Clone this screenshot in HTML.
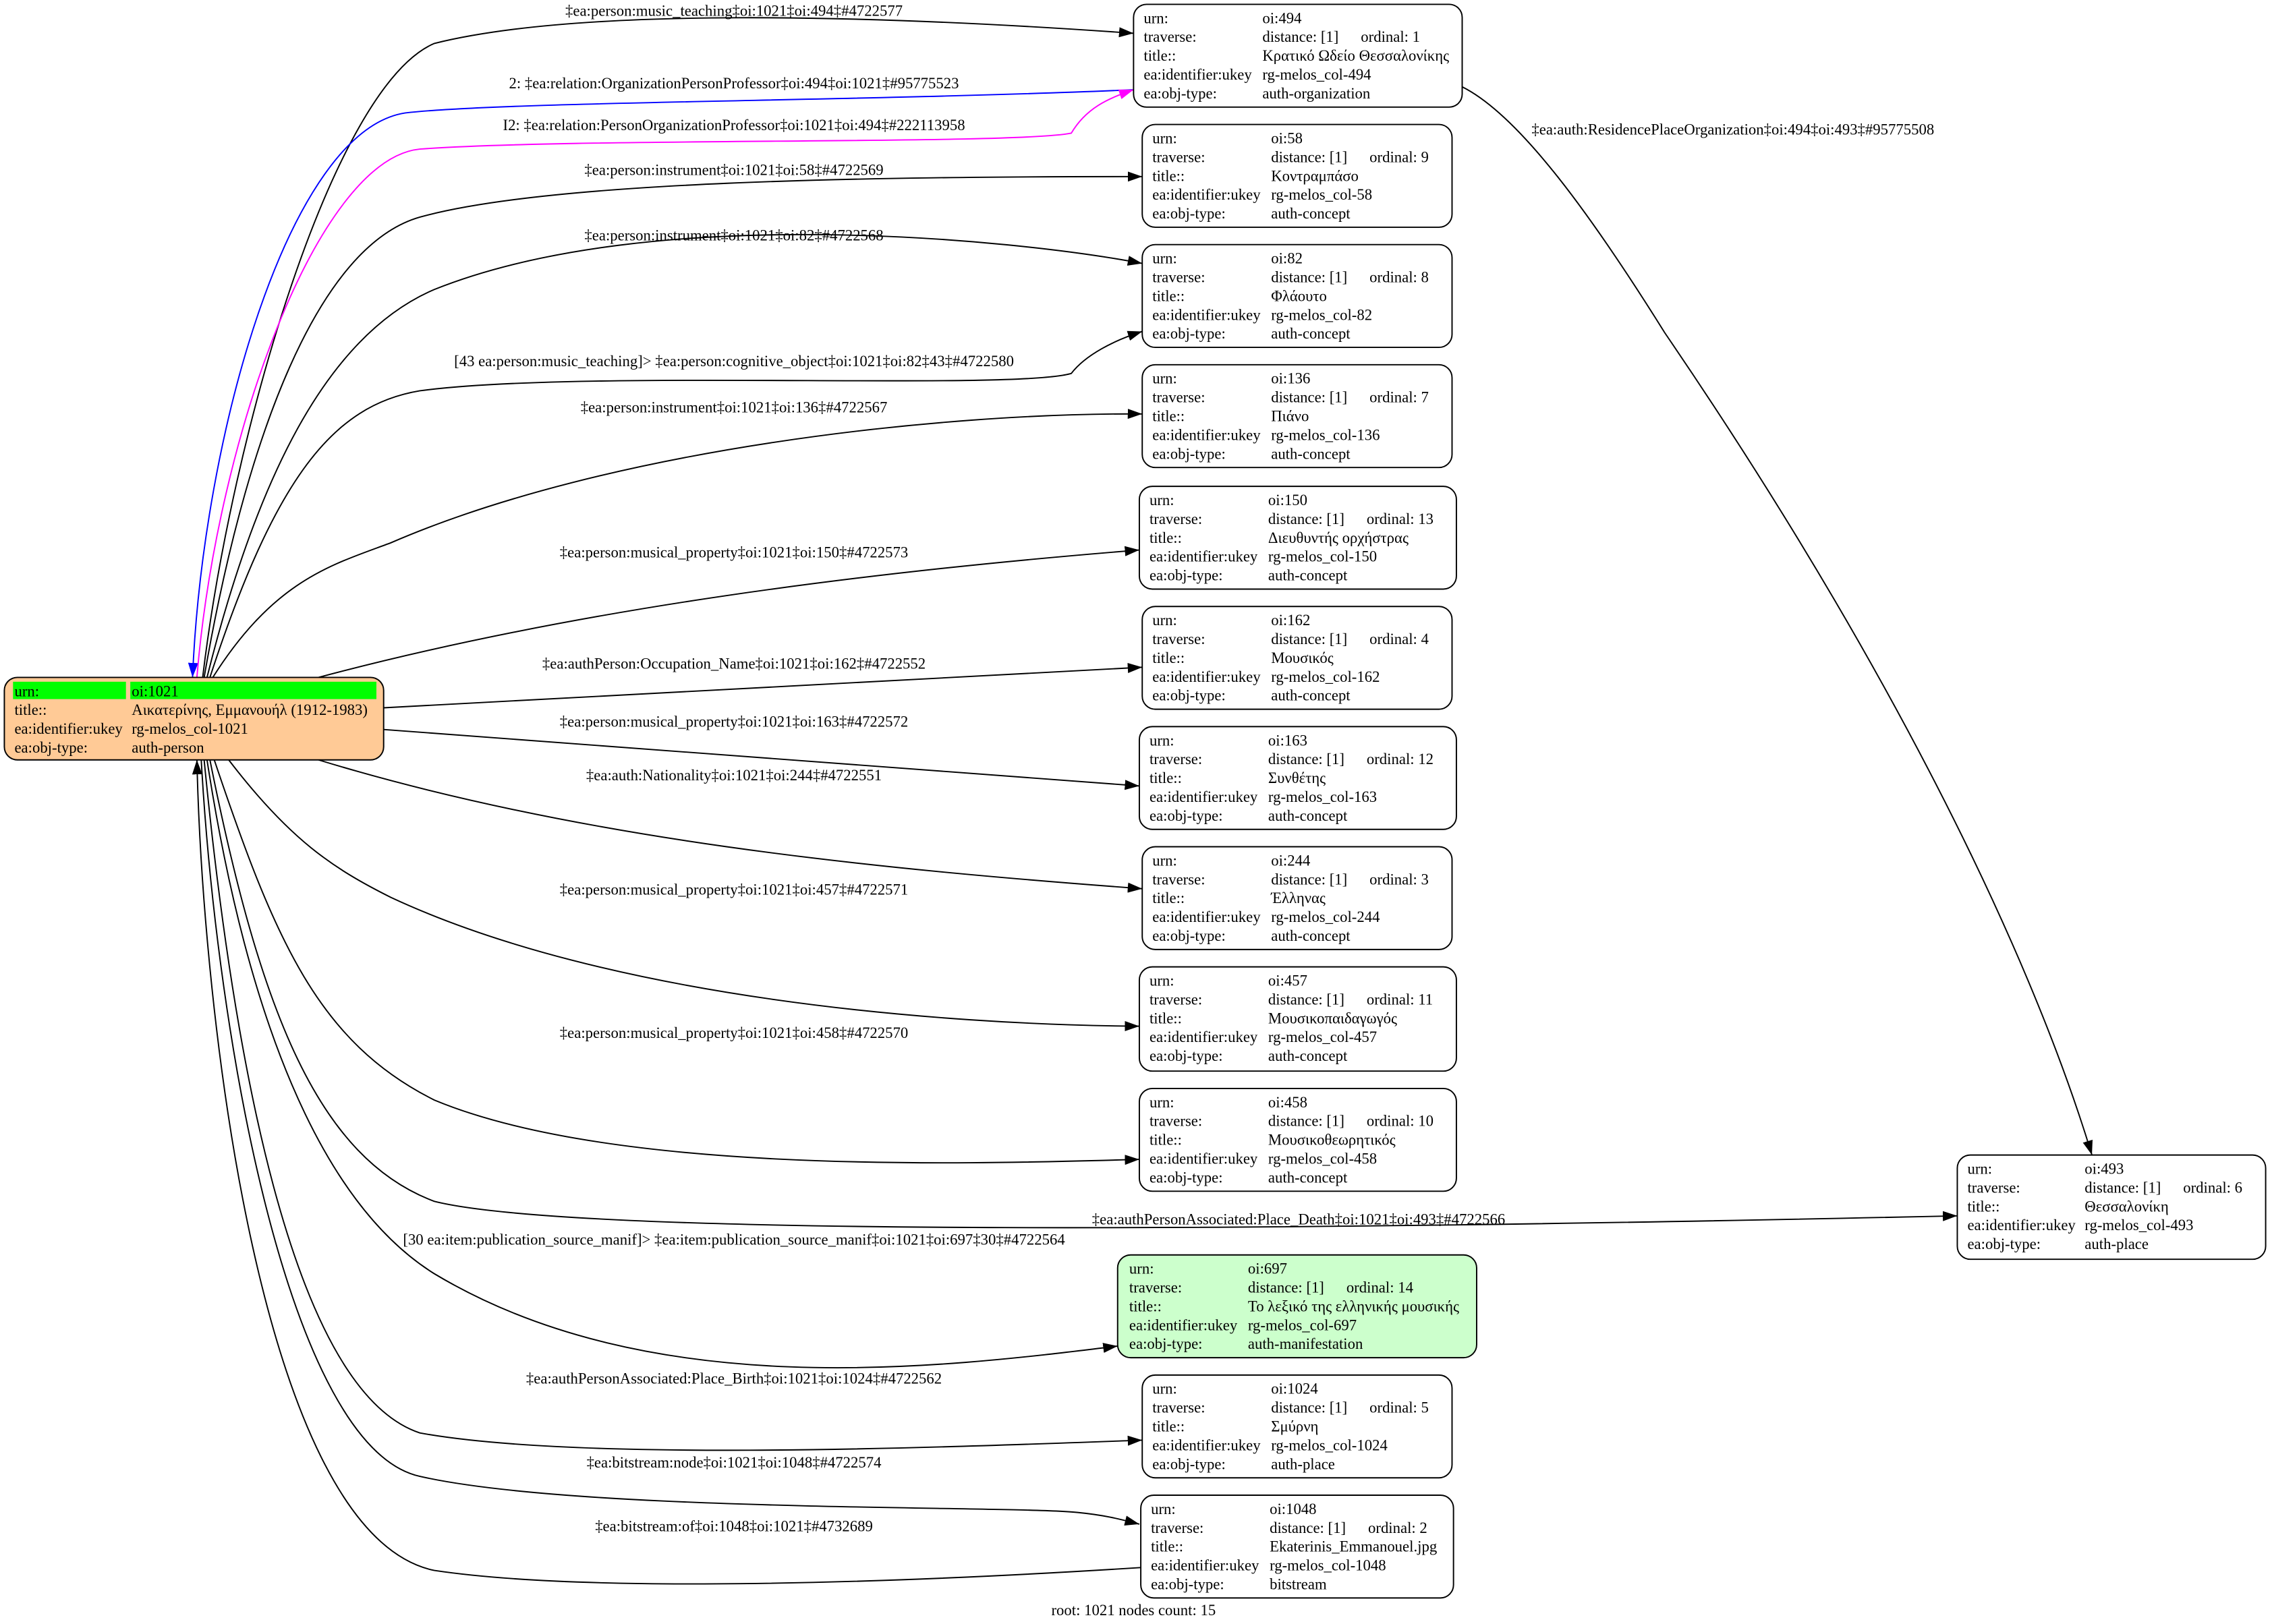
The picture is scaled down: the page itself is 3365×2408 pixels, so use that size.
<!DOCTYPE html>
<html><head><meta charset="utf-8"><style>
html,body{margin:0;padding:0;background:#fff;width:3365px;height:2408px;overflow:hidden}
svg{display:block}
text{font-family:"Liberation Serif","DejaVu Serif",serif;font-size:10.6px;fill:#000}
.lbl{text-anchor:middle}
.e{fill:none;stroke:#000;stroke-width:0.9}
.n{stroke:#000;stroke-width:0.9;fill:#fff}
</style></head><body>
<svg width="3365" height="2408" viewBox="0 0 1568 1122" preserveAspectRatio="none" xmlns="http://www.w3.org/2000/svg">
<defs>
<marker id="ak" viewBox="0 0 10 7" refX="10" refY="3.5" markerWidth="10" markerHeight="7" markerUnits="userSpaceOnUse" orient="auto"><path d="M0,0 L10,3.5 L0,7 z" fill="#000"/></marker>
<marker id="ab" viewBox="0 0 10 7" refX="10" refY="3.5" markerWidth="10" markerHeight="7" markerUnits="userSpaceOnUse" orient="auto"><path d="M0,0 L10,3.5 L0,7 z" fill="#00f"/></marker>
<marker id="am" viewBox="0 0 10 7" refX="10" refY="3.5" markerWidth="10" markerHeight="7" markerUnits="userSpaceOnUse" orient="auto"><path d="M0,0 L10,3.5 L0,7 z" fill="#f0f"/></marker>
</defs>

<!-- edges -->
<path class="e" d="M140,468 C160,300 230,60 300,30 C400,5 600,10 783,23" marker-end="url(#ak)"/>
<text class="lbl" x="507" y="11">‡ea:person:music_teaching‡oi:1021‡oi:494‡#4722577</text>
<path class="e" style="stroke:#00f" d="M783,62 C600,70 350,70 280,78 C200,90 140,300 133,468" marker-end="url(#ab)"/>
<text class="lbl" x="507" y="61">2: ‡ea:relation:OrganizationPersonProfessor‡oi:494‡oi:1021‡#95775523</text>
<path class="e" style="stroke:#f0f" d="M136,468 C150,300 220,110 290,103 C400,95 700,100 740,92 C750,75 765,68 783,62" marker-end="url(#am)"/>
<text class="lbl" x="507" y="90">I2: ‡ea:relation:PersonOrganizationProfessor‡oi:1021‡oi:494‡#222113958</text>
<path class="e" d="M141,468 C170,300 220,170 290,150 C380,125 600,122 789,122" marker-end="url(#ak)"/>
<text class="lbl" x="507" y="121">‡ea:person:instrument‡oi:1021‡oi:58‡#4722569</text>
<path class="e" d="M143,468 C180,320 230,230 300,200 C450,140 700,165 789,182" marker-end="url(#ak)"/>
<text class="lbl" x="507" y="166">‡ea:person:instrument‡oi:1021‡oi:82‡#4722568</text>
<path class="e" d="M145,468 C190,330 230,280 290,270 C400,255 700,270 740,258 C750,245 770,235 789,229" marker-end="url(#ak)"/>
<text class="lbl" x="507" y="253">[43 ea:person:music_teaching]&gt; ‡ea:person:cognitive_object‡oi:1021‡oi:82‡43‡#4722580</text>
<path class="e" d="M147,468 C190,400 230,390 270,375 C420,310 650,285 789,286" marker-end="url(#ak)"/>
<text class="lbl" x="507" y="285">‡ea:person:instrument‡oi:1021‡oi:136‡#4722567</text>
<path class="e" d="M220,468 C400,420 600,395 787,380" marker-end="url(#ak)"/>
<text class="lbl" x="507" y="385">‡ea:person:musical_property‡oi:1021‡oi:150‡#4722573</text>
<path class="e" d="M265,489 L789,461" marker-end="url(#ak)"/>
<text class="lbl" x="507" y="462">‡ea:authPerson:Occupation_Name‡oi:1021‡oi:162‡#4722552</text>
<path class="e" d="M265,504 L787,543" marker-end="url(#ak)"/>
<text class="lbl" x="507" y="502">‡ea:person:musical_property‡oi:1021‡oi:163‡#4722572</text>
<path class="e" d="M220,525 C400,580 600,600 789,614" marker-end="url(#ak)"/>
<text class="lbl" x="507" y="539">‡ea:auth:Nationality‡oi:1021‡oi:244‡#4722551</text>
<path class="e" d="M158,525 C200,580 230,600 270,620 C420,690 650,708 787,709" marker-end="url(#ak)"/>
<text class="lbl" x="507" y="618">‡ea:person:musical_property‡oi:1021‡oi:457‡#4722571</text>
<path class="e" d="M148,525 C190,650 220,720 300,760 C420,810 650,805 787,801" marker-end="url(#ak)"/>
<text class="lbl" x="507" y="717">‡ea:person:musical_property‡oi:1021‡oi:458‡#4722570</text>
<path class="e" d="M145,525 C180,700 220,800 300,830 C400,855 900,850 1352,840" marker-end="url(#ak)"/>
<text class="lbl" x="897" y="846">‡ea:authPersonAssociated:Place_Death‡oi:1021‡oi:493‡#4722566</text>
<path class="e" d="M143,525 C170,700 220,830 300,880 C450,970 650,945 772,930" marker-end="url(#ak)"/>
<text class="lbl" x="507" y="860">[30 ea:item:publication_source_manif]&gt; ‡ea:item:publication_source_manif‡oi:1021‡oi:697‡30‡#4722564</text>
<path class="e" d="M141,525 C160,720 200,960 290,990 C400,1010 650,1000 789,995" marker-end="url(#ak)"/>
<text class="lbl" x="507" y="956">‡ea:authPersonAssociated:Place_Birth‡oi:1021‡oi:1024‡#4722562</text>
<path class="e" d="M139,525 C150,720 200,1000 290,1020 C400,1045 700,1040 745,1045 C765,1047 775,1050 787,1053" marker-end="url(#ak)"/>
<text class="lbl" x="507" y="1014">‡ea:bitstream:node‡oi:1021‡oi:1048‡#4722574</text>
<path class="e" d="M788,1083 C600,1095 400,1100 300,1085 C180,1060 140,700 136,525" marker-end="url(#ak)"/>
<text class="lbl" x="507" y="1058">‡ea:bitstream:of‡oi:1048‡oi:1021‡#4732689</text>
<path class="e" d="M1010,60 C1050,80 1100,150 1150,230 C1300,450 1400,650 1445,798" marker-end="url(#ak)"/>
<text class="lbl" x="1197" y="93">‡ea:auth:ResidencePlaceOrganization‡oi:494‡oi:493‡#95775508</text>

<!-- root -->
<rect class="n" x="3" y="468" width="262" height="57" rx="9" style="fill:#ffca96"/>
<rect x="9" y="471" width="78" height="12" fill="#00ff00"/>
<rect x="90" y="471" width="170" height="12" fill="#00ff00"/>
<text x="10" y="481">urn:</text><text x="91" y="481">oi:1021</text>
<text x="10" y="494">title::</text><text x="91" y="494">Αικατερίνης, Εμμανουήλ (1912-1983)</text>
<text x="10" y="507">ea:identifier:ukey</text><text x="91" y="507">rg-melos_col-1021</text>
<text x="10" y="520">ea:obj-type:</text><text x="91" y="520">auth-person</text>

<!-- 494 -->
<rect class="n" x="783" y="3" width="227" height="71" rx="9"/>
<text x="790" y="16">urn:</text><text x="872" y="16">oi:494</text>
<text x="790" y="29">traverse:</text><text x="872" y="29">distance: [1]</text><text x="940" y="29">ordinal: 1</text>
<text x="790" y="42">title::</text><text x="872" y="42">Κρατικό Ωδείο Θεσσαλονίκης</text>
<text x="790" y="55">ea:identifier:ukey</text><text x="872" y="55">rg-melos_col-494</text>
<text x="790" y="68">ea:obj-type:</text><text x="872" y="68">auth-organization</text>

<!-- 58 -->
<rect class="n" x="789" y="86" width="214" height="71" rx="9"/>
<text x="796" y="99">urn:</text><text x="878" y="99">oi:58</text>
<text x="796" y="112">traverse:</text><text x="878" y="112">distance: [1]</text><text x="946" y="112">ordinal: 9</text>
<text x="796" y="125">title::</text><text x="878" y="125">Κοντραμπάσο</text>
<text x="796" y="138">ea:identifier:ukey</text><text x="878" y="138">rg-melos_col-58</text>
<text x="796" y="151">ea:obj-type:</text><text x="878" y="151">auth-concept</text>

<!-- 82 -->
<rect class="n" x="789" y="169" width="214" height="71" rx="9"/>
<text x="796" y="182">urn:</text><text x="878" y="182">oi:82</text>
<text x="796" y="195">traverse:</text><text x="878" y="195">distance: [1]</text><text x="946" y="195">ordinal: 8</text>
<text x="796" y="208">title::</text><text x="878" y="208">Φλάουτο</text>
<text x="796" y="221">ea:identifier:ukey</text><text x="878" y="221">rg-melos_col-82</text>
<text x="796" y="234">ea:obj-type:</text><text x="878" y="234">auth-concept</text>

<!-- 136 -->
<rect class="n" x="789" y="252" width="214" height="71" rx="9"/>
<text x="796" y="265">urn:</text><text x="878" y="265">oi:136</text>
<text x="796" y="278">traverse:</text><text x="878" y="278">distance: [1]</text><text x="946" y="278">ordinal: 7</text>
<text x="796" y="291">title::</text><text x="878" y="291">Πιάνο</text>
<text x="796" y="304">ea:identifier:ukey</text><text x="878" y="304">rg-melos_col-136</text>
<text x="796" y="317">ea:obj-type:</text><text x="878" y="317">auth-concept</text>

<!-- 150 -->
<rect class="n" x="787" y="336" width="219" height="71" rx="9"/>
<text x="794" y="349">urn:</text><text x="876" y="349">oi:150</text>
<text x="794" y="362">traverse:</text><text x="876" y="362">distance: [1]</text><text x="944" y="362">ordinal: 13</text>
<text x="794" y="375">title::</text><text x="876" y="375">Διευθυντής ορχήστρας</text>
<text x="794" y="388">ea:identifier:ukey</text><text x="876" y="388">rg-melos_col-150</text>
<text x="794" y="401">ea:obj-type:</text><text x="876" y="401">auth-concept</text>

<!-- 162 -->
<rect class="n" x="789" y="419" width="214" height="71" rx="9"/>
<text x="796" y="432">urn:</text><text x="878" y="432">oi:162</text>
<text x="796" y="445">traverse:</text><text x="878" y="445">distance: [1]</text><text x="946" y="445">ordinal: 4</text>
<text x="796" y="458">title::</text><text x="878" y="458">Μουσικός</text>
<text x="796" y="471">ea:identifier:ukey</text><text x="878" y="471">rg-melos_col-162</text>
<text x="796" y="484">ea:obj-type:</text><text x="878" y="484">auth-concept</text>

<!-- 163 -->
<rect class="n" x="787" y="502" width="219" height="71" rx="9"/>
<text x="794" y="515">urn:</text><text x="876" y="515">oi:163</text>
<text x="794" y="528">traverse:</text><text x="876" y="528">distance: [1]</text><text x="944" y="528">ordinal: 12</text>
<text x="794" y="541">title::</text><text x="876" y="541">Συνθέτης</text>
<text x="794" y="554">ea:identifier:ukey</text><text x="876" y="554">rg-melos_col-163</text>
<text x="794" y="567">ea:obj-type:</text><text x="876" y="567">auth-concept</text>

<!-- 244 -->
<rect class="n" x="789" y="585" width="214" height="71" rx="9"/>
<text x="796" y="598">urn:</text><text x="878" y="598">oi:244</text>
<text x="796" y="611">traverse:</text><text x="878" y="611">distance: [1]</text><text x="946" y="611">ordinal: 3</text>
<text x="796" y="624">title::</text><text x="878" y="624">Έλληνας</text>
<text x="796" y="637">ea:identifier:ukey</text><text x="878" y="637">rg-melos_col-244</text>
<text x="796" y="650">ea:obj-type:</text><text x="878" y="650">auth-concept</text>

<!-- 457 -->
<rect class="n" x="787" y="668" width="219" height="72" rx="9"/>
<text x="794" y="681">urn:</text><text x="876" y="681">oi:457</text>
<text x="794" y="694">traverse:</text><text x="876" y="694">distance: [1]</text><text x="944" y="694">ordinal: 11</text>
<text x="794" y="707">title::</text><text x="876" y="707">Μουσικοπαιδαγωγός</text>
<text x="794" y="720">ea:identifier:ukey</text><text x="876" y="720">rg-melos_col-457</text>
<text x="794" y="733">ea:obj-type:</text><text x="876" y="733">auth-concept</text>

<!-- 458 -->
<rect class="n" x="787" y="752" width="219" height="71" rx="9"/>
<text x="794" y="765">urn:</text><text x="876" y="765">oi:458</text>
<text x="794" y="778">traverse:</text><text x="876" y="778">distance: [1]</text><text x="944" y="778">ordinal: 10</text>
<text x="794" y="791">title::</text><text x="876" y="791">Μουσικοθεωρητικός</text>
<text x="794" y="804">ea:identifier:ukey</text><text x="876" y="804">rg-melos_col-458</text>
<text x="794" y="817">ea:obj-type:</text><text x="876" y="817">auth-concept</text>

<!-- 493 -->
<rect class="n" x="1352" y="798" width="213" height="72" rx="9"/>
<text x="1359" y="811">urn:</text><text x="1440" y="811">oi:493</text>
<text x="1359" y="824">traverse:</text><text x="1440" y="824">distance: [1]</text><text x="1508" y="824">ordinal: 6</text>
<text x="1359" y="837">title::</text><text x="1440" y="837">Θεσσαλονίκη</text>
<text x="1359" y="850">ea:identifier:ukey</text><text x="1440" y="850">rg-melos_col-493</text>
<text x="1359" y="863">ea:obj-type:</text><text x="1440" y="863">auth-place</text>

<!-- 697 -->
<rect class="n" x="772" y="867" width="248" height="71" rx="9" style="fill:#ccffcc"/>
<text x="780" y="880">urn:</text><text x="862" y="880">oi:697</text>
<text x="780" y="893">traverse:</text><text x="862" y="893">distance: [1]</text><text x="930" y="893">ordinal: 14</text>
<text x="780" y="906">title::</text><text x="862" y="906">Το λεξικό της ελληνικής μουσικής</text>
<text x="780" y="919">ea:identifier:ukey</text><text x="862" y="919">rg-melos_col-697</text>
<text x="780" y="932">ea:obj-type:</text><text x="862" y="932">auth-manifestation</text>

<!-- 1024 -->
<rect class="n" x="789" y="950" width="214" height="71" rx="9"/>
<text x="796" y="963">urn:</text><text x="878" y="963">oi:1024</text>
<text x="796" y="976">traverse:</text><text x="878" y="976">distance: [1]</text><text x="946" y="976">ordinal: 5</text>
<text x="796" y="989">title::</text><text x="878" y="989">Σμύρνη</text>
<text x="796" y="1002">ea:identifier:ukey</text><text x="878" y="1002">rg-melos_col-1024</text>
<text x="796" y="1015">ea:obj-type:</text><text x="878" y="1015">auth-place</text>

<!-- 1048 -->
<rect class="n" x="788" y="1033" width="216" height="71" rx="9"/>
<text x="795" y="1046">urn:</text><text x="877" y="1046">oi:1048</text>
<text x="795" y="1059">traverse:</text><text x="877" y="1059">distance: [1]</text><text x="945" y="1059">ordinal: 2</text>
<text x="795" y="1072">title::</text><text x="877" y="1072">Ekaterinis_Emmanouel.jpg</text>
<text x="795" y="1085">ea:identifier:ukey</text><text x="877" y="1085">rg-melos_col-1048</text>
<text x="795" y="1098">ea:obj-type:</text><text x="877" y="1098">bitstream</text>

<text class="lbl" x="783" y="1116">root: 1021 nodes count: 15</text>
</svg>
</body></html>
